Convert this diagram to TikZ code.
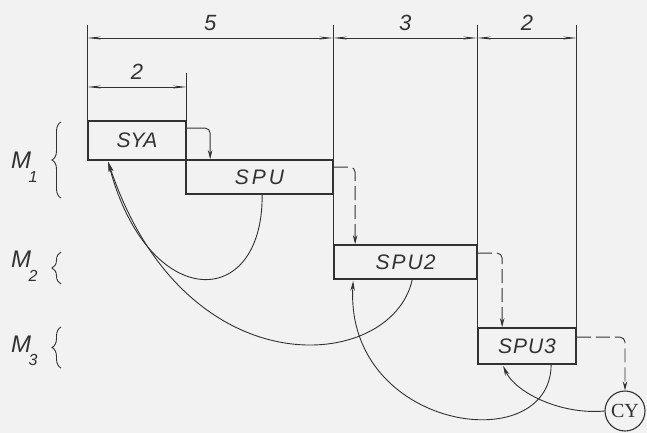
\documentclass[tikz,border=0pt]{standalone}
\usepackage{fontspec}
\setmainfont{Liberation Sans}
\newfontfamily\cyfont{Liberation Serif}
\usetikzlibrary{arrows.meta,decorations.pathreplacing,calc}
\definecolor{bgcol}{RGB}{242,242,242}
\definecolor{inkcol}{RGB}{50,50,50}
\begin{document}
\begin{tikzpicture}[x=1pt,y=-1pt,
  box/.style={draw=inkcol, line width=1.7pt, inner sep=0pt, font=\fontsize{21}{21}\selectfont\itshape, text=inkcol},
  dim/.style={draw=inkcol, line width=0.8pt},
  dimarrow/.style={dim, {Stealth[length=14pt,width=3pt]}-{Stealth[length=14pt,width=3pt]}},
  flow/.style={draw=inkcol, line width=0.9pt, rounded corners=5pt, -{Stealth[length=9pt,width=4.5pt]}},
  flowdash/.style={flow, dash pattern=on 14pt off 5pt},
  fb/.style={draw=inkcol, line width=0.9pt, -{Stealth[length=10pt,width=4.5pt]}},
  num/.style={font=\fontsize{22}{22}\selectfont\itshape, text=inkcol, inner sep=0pt},
  mlab/.style={font=\fontsize{24}{24}\selectfont\itshape, text=inkcol, inner sep=0pt},
  msub/.style={font=\fontsize{16}{16}\selectfont\itshape, text=inkcol, inner sep=0pt},
  brace/.style={draw=inkcol, line width=0.9pt, decorate, decoration={brace, amplitude=9pt}},
]
\fill[bgcol] (0,0) rectangle (647,433);
\useasboundingbox (0,0) rectangle (647,433);

% boxes
\node[box, minimum width=98pt, minimum height=39pt] (sya) at (137,140.5) {SYA};
\node[box, minimum width=147pt, minimum height=34pt] (spu) at (259.5,177) {S\hspace{3pt}P\hspace{3pt}U};
\node[box, minimum width=143pt, minimum height=34pt] (spu2) at (405.5,262) {S\hspace{2pt}P\hspace{2pt}U\hspace{1pt}2};
\node[box, minimum width=98pt, minimum height=36pt] (spu3) at (527,346) {S\hspace{1pt}P\hspace{1pt}U\hspace{1pt}3};
\node[circle, draw=inkcol, line width=1.1pt, minimum size=40pt, inner sep=0pt, text=inkcol,
      font=\cyfont\fontsize{20}{20}\selectfont] (cy) at (625,411) {CY};

% extension lines
\draw[dim] (sya.north west) -- (sya.north west |- 0,25);
\draw[dim] (sya.north east) -- (sya.north east |- 0,73);
\draw[dim] (spu2.north west) -- (spu2.north west |- 0,25);
\draw[dim] (spu3.north west) -- (spu3.north west |- 0,25);
\draw[dim] (spu3.north east) -- (spu3.north east |- 0,25);

% dimension lines
\draw[dimarrow] (sya.north west |- 0,38) -- node[num, above=7pt] (d5) {5} (spu2.north west |- 0,38);
\draw[dimarrow] (spu2.north west |- 0,38) -- node[num, above=7pt] (d3) {3} (spu3.north west |- 0,38);
\draw[dimarrow] (spu3.north west |- 0,38) -- node[num, above=7pt] (d2b) {2} (spu3.north east |- 0,38);
\draw[dimarrow] (sya.north west |- 0,87) -- node[num, above=7pt] (d2a) {2} (sya.north east |- 0,87);

% forward connectors
\draw[flow] ($(sya.north east)+(0,8)$) -| ($(spu.north west)+(25,0)$);
\draw[flowdash] ($(spu.north east)+(0,8)$) -| ($(spu2.north west)+(22,0)$);
\draw[flowdash] ($(spu2.north east)+(0,9)$) -| ($(spu3.north west)+(25,0)$);
\draw[flowdash] ($(spu3.north east)+(0,10)$) -| (cy.north);

% feedback curves
\draw[fb] ($(spu.south west)+(77,0)$) .. controls (263,312) and (148,312) .. ($(sya.south west)+(21,1)$);
\draw[fb] ($(spu2.south west)+(79,0)$) .. controls (392,372) and (185,392) .. ($(sya.south west)+(21,1)$);
\draw[fb] ($(spu3.south west)+(74,0)$) .. controls (550,460) and (345,430) .. ($(spu2.south west)+(20,1)$);
\draw[fb] (cy.west) .. controls (560,415) and (515,392) .. ($(spu3.south west)+(26,1)$);

% M labels
\node[mlab] (m1) at (21,160) {M};
\node[msub] (m1s) at (33,177) {1};
\node[mlab] (m2) at (21,259) {M};
\node[msub] (m2s) at (33,276) {2};
\node[mlab] (m3) at (21,344) {M};
\node[msub] (m3s) at (33,360) {3};
\draw[brace] (61,198) -- (61,122);
\draw[brace] (61,284) -- (61,252);
\draw[brace] (61,368) -- (61,327);
\end{tikzpicture}
\end{document}
